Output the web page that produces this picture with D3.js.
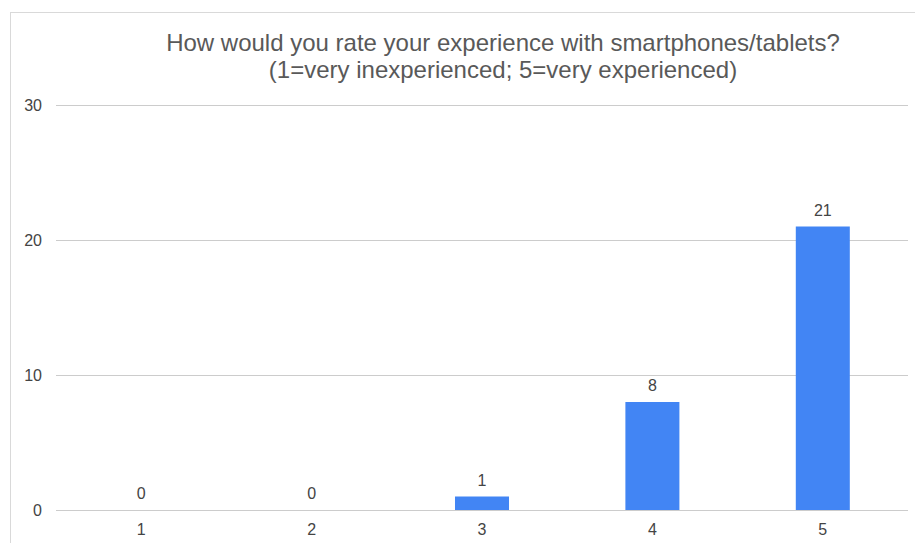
<!DOCTYPE html>
<html>
<head>
<meta charset="utf-8">
<script src="https://cdn.jsdelivr.net/npm/d3@7/dist/d3.min.js"></script>
<style>
  html, body { margin: 0; padding: 0; background: #fff; }
  svg { display: block; font-family: "Liberation Sans", Arial, sans-serif; }
</style>
</head>
<body>
<svg id="chart" width="915" height="543"></svg>
<script>
// Survey answers: rating 1..5 and number of respondents
const categories = ["1", "2", "3", "4", "5"];
const counts = [0, 0, 1, 8, 21];
const yTicks = [0, 10, 20, 30];
const titleLines = [
  "How would you rate your experience with smartphones/tablets?",
  "(1=very inexperienced; 5=very experienced)"
];

const svg = d3.select("#chart");
const W = 915, H = 543;
const plot = { left: 56, right: 908, top: 105, bottom: 510 };

// Chart frame
svg.append("rect")
  .attr("x", 10.5).attr("y", 12.5)
  .attr("width", W + 10).attr("height", H + 10)
  .attr("fill", "#fff")
  .attr("stroke", "#d9d9d9").attr("stroke-width", 1);

const x = d3.scaleBand()
  .domain(categories)
  .range([plot.left, plot.right])
  .paddingInner(0.683)
  .paddingOuter(0.3415);

const y = d3.scaleLinear()
  .domain([0, 30])
  .range([plot.bottom, plot.top]);

// Gridlines and value axis
const yAxis = d3.axisLeft(y)
  .tickValues(yTicks)
  .tickSize(-(plot.right - plot.left))
  .tickFormat(d3.format("d"));

const gy = svg.append("g")
  .attr("transform", `translate(${plot.left},0)`)
  .call(yAxis);
gy.select(".domain").remove();
gy.selectAll(".tick line").attr("stroke", "#cccccc").attr("stroke-width", 1);
gy.selectAll(".tick text")
  .attr("fill", "#444").attr("font-size", 16)
  .attr("x", -14).attr("dy", "0.35em");

// Bars
svg.append("g").selectAll("rect")
  .data(counts)
  .join("rect")
  .attr("x", (d, i) => x(categories[i]))
  .attr("y", d => y(d))
  .attr("width", x.bandwidth())
  .attr("height", d => y(0) - y(d))
  .attr("fill", "#4285f4");

// Value labels
svg.append("g").selectAll("text")
  .data(counts)
  .join("text")
  .attr("x", (d, i) => x(categories[i]) + x.bandwidth() / 2)
  .attr("y", d => y(d) - 11)
  .attr("text-anchor", "middle")
  .attr("font-size", 16)
  .attr("fill", "#444")
  .text(d => d);

// Category axis
const gx = svg.append("g")
  .attr("transform", `translate(0,${plot.bottom})`)
  .call(d3.axisBottom(x).tickSize(0).tickPadding(14));
gx.select(".domain").remove();
gx.selectAll(".tick text").attr("fill", "#444").attr("font-size", 16);

// Title
svg.append("g").selectAll("text")
  .data(titleLines)
  .join("text")
  .attr("x", 503)
  .attr("y", (d, i) => 51 + i * 27)
  .attr("text-anchor", "middle")
  .attr("font-size", 24)
  .attr("fill", "#595959")
  .text(d => d);
</script>
</body>
</html>
